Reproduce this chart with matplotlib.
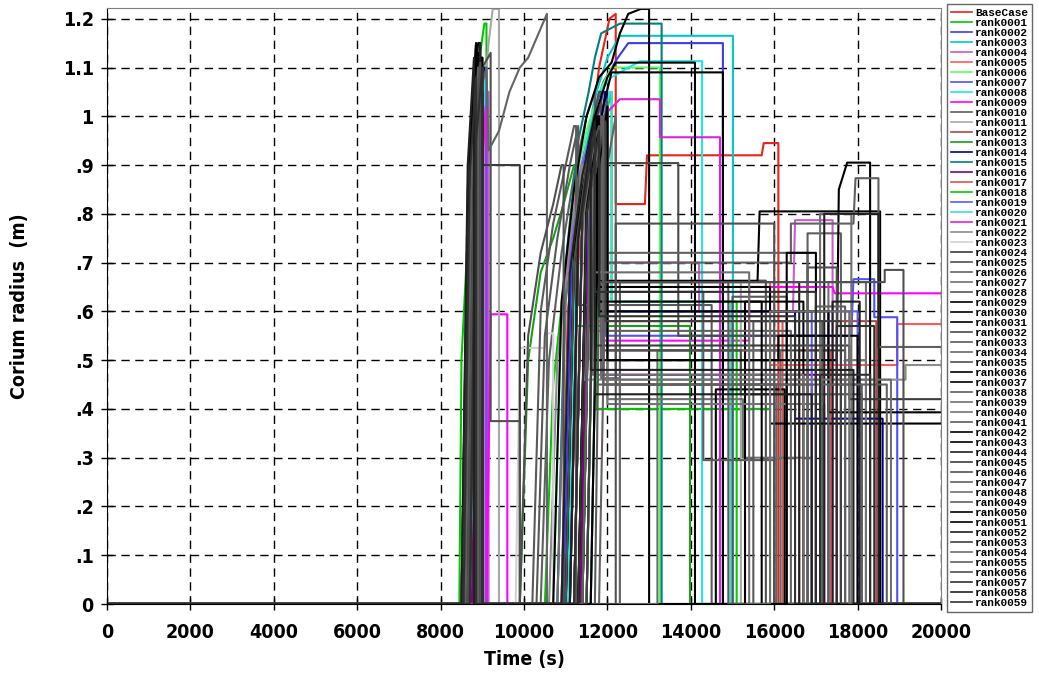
import numpy as np
import matplotlib
matplotlib.use('Agg')
import matplotlib.pyplot as plt
from matplotlib.ticker import FixedLocator, FixedFormatter

# Corium radius (m) vs time (s), one step curve per case: (time, radius) knots
base_case = [(0,0),(8650,0),(8800,0.55),(8950,0.95),(9050,1.04),(9050,0),(10900,0),(11050,0.6),(11300,0.78),(11550,0.93),(11800,1.1),(12050,1.2),(12200,1.21),(12200,0.82),(12900,0.82),(12950,0.92),(15700,0.92),(15750,0.945),(16100,0.945),(16100,0),(20000,0)]
rank0001 = [(0,0),(8450,0),(8500,0.5),(8650,0.75),(8800,1.0),(8950,1.13),(9050,1.19),(9100,1.19),(9100,0),(10500,0),(10700,0.45),(10950,0.65),(11200,0.8),(11450,0.92),(11700,1.02),(11750,1.02),(11750,0.4),(15900,0.4),(15900,0),(20000,0)]
rank0002 = [(0,0),(8600,0),(8750,0.7),(8900,0.98),(9000,1.06),(9100,1.06),(9100,0),(10950,0),(11150,0.72),(11400,0.9),(11650,1.0),(11900,1.07),(12250,1.12),(12500,1.15),(14770,1.15),(14770,0),(20000,0)]
rank0003 = [(0,0),(8700,0),(8850,0.8),(9000,1.02),(9100,1.08),(9100,0),(11000,0),(11200,0.75),(11450,0.92),(11700,1.04),(12000,1.12),(12300,1.165),(15010,1.165),(15010,0),(20000,0)]
rank0004 = [(0,0),(8750,0),(8900,0.85),(9050,1.05),(9150,1.05),(9150,0),(10800,0),(11000,0.65),(11250,0.85),(11500,0.95),(11550,0.95),(11550,0.7),(14200,0.7),(14200,0.6),(16450,0.6),(16500,0.787),(17400,0.787),(17400,0),(20000,0)]
rank0005 = [(0,0),(8600,0),(8800,0.8),(8950,1.05),(9000,1.05),(9000,0),(11100,0),(11300,0.7),(11550,0.88),(11800,1.0),(11900,1.0),(11900,0.66),(15900,0.66),(15900,0.49),(18950,0.49),(18950,0.574),(20000,0.574)]
rank0006 = [(0,0),(8550,0),(8700,0.65),(8850,0.95),(8950,1.08),(8950,0),(10700,0),(10900,0.6),(11200,0.85),(11500,0.97),(11800,1.05),(12100,1.1),(13260,1.1),(13260,0),(20000,0)]
rank0007 = [(0,0),(8650,0),(8800,0.7),(8950,0.98),(9100,1.1),(9100,0),(11200,0),(11400,0.8),(11650,0.95),(11900,1.05),(11950,1.05),(11950,0.55),(17850,0.55),(17900,0.666),(18400,0.666),(18400,0.588),(18950,0.588),(18950,0),(20000,0)]
rank0008 = [(0,0),(8700,0),(8850,0.9),(9000,1.1),(9050,1.1),(9050,0),(11050,0),(11250,0.8),(11500,0.95),(11800,1.05),(12100,1.08),(12780,1.113),(14270,1.113),(14270,0),(20000,0)]
rank0009 = [(0,0),(8550,0),(8700,0.6),(8850,0.9),(9000,1.0),(9070,1.0),(9070,0),(9100,0),(9200,0.594),(9600,0.594),(9600,0),(11300,0),(11500,0.7),(11750,0.9),(11900,0.95),(11900,0.54),(15400,0.54),(15400,0.65),(17400,0.65),(17450,0.637),(20000,0.637)]
rank0010 = [(0,0),(8500,0),(8650,0.7),(8800,0.98),(8950,1.1),(9000,1.1),(9000,0),(10400,0),(10600,0.5),(10900,0.72),(11200,0.88),(11500,1.0),(11700,1.05),(11700,0.45),(16300,0.45),(16300,0),(16800,0),(16800,0.76),(17600,0.76),(17600,0),(20000,0)]
rank0011 = [(0,0),(8550,0),(8750,0.6),(8950,0.95),(9150,1.15),(9250,1.22),(9400,1.22),(9400,0),(11000,0),(11200,0.7),(11500,0.9),(11800,1.0),(11850,1.0),(11850,0.66),(15200,0.66),(15200,0),(20000,0)]
rank0012 = [(0,0),(8700,0),(8850,0.85),(9000,1.07),(9000,0),(11400,0),(11600,0.82),(11850,1.0),(11900,1.0),(11900,0.45),(16900,0.45),(16900,0),(17500,0),(17500,0.58),(18450,0.58),(18450,0),(20000,0)]
rank0013 = [(0,0),(8600,0),(8750,0.75),(8900,1.02),(9000,1.12),(9000,0),(9900,0),(10100,0.5),(10400,0.68),(10700,0.75),(10950,0.82),(11200,0.9),(11250,0.9),(11250,0.57),(13980,0.57),(13980,0),(20000,0)]
rank0014 = [(0,0),(8650,0),(8800,0.8),(9000,1.1),(9050,1.1),(9050,0),(11500,0),(11700,0.9),(11950,1.05),(12000,1.05),(12000,0.6),(16500,0.6),(16500,0.38),(18600,0.38),(18600,0),(20000,0)]
rank0015 = [(0,0),(8700,0),(8850,0.85),(9000,1.05),(9000,0),(10800,0),(11000,0.7),(11300,0.95),(11550,1.05),(11700,1.12),(11850,1.17),(12300,1.19),(13300,1.19),(13300,0),(20000,0)]
rank0016 = [(0,0),(8750,0),(8900,0.85),(9050,1.0),(9050,0),(11350,0),(11550,0.8),(11800,0.95),(11850,0.95),(11850,0.47),(17600,0.47),(17600,0),(20000,0)]
rank0017 = [(0,0),(8600,0),(8800,0.9),(8900,1.0),(8900,0),(11200,0),(11400,0.78),(11650,0.95),(11700,0.95),(11700,0.58),(16200,0.58),(16200,0),(16600,0),(16600,0.52),(17350,0.52),(17350,0),(20000,0)]
rank0018 = [(0,0),(8500,0),(8650,0.6),(8800,0.9),(8950,1.05),(9000,1.05),(9000,0),(11500,0),(11700,0.85),(11950,1.0),(12100,1.05),(12100,0.62),(15100,0.62),(15100,0),(20000,0)]
rank0019 = [(0,0),(8650,0),(8800,0.75),(8950,1.02),(8950,0),(10900,0),(11100,0.7),(11350,0.88),(11550,0.95),(11550,0.6),(16900,0.6),(16900,0),(17300,0),(17300,0.6),(18000,0.6),(18000,0),(20000,0)]
rank0020 = [(0,0),(8700,0),(8900,0.9),(9050,1.08),(9050,0),(11600,0),(11800,0.9),(12050,1.05),(12100,1.05),(12100,0.62),(14950,0.62),(14950,0),(20000,0)]
rank0021 = [(0,0),(8800,0),(8950,0.85),(9080,1.02),(9080,0),(11200,0),(11400,0.8),(11650,0.95),(11900,1.0),(12300,1.035),(13260,1.035),(13260,0.957),(14700,0.957),(14700,0),(20000,0)]
rank0022 = [(0,0),(8600,0),(8800,0.85),(8950,1.1),(9000,1.1),(9000,0),(10600,0),(10800,0.5),(11100,0.75),(11400,0.9),(11450,0.9),(11450,0.46),(19150,0.46),(19150,0.49),(20000,0.49)]
rank0023 = [(0,0),(8550,0),(8750,0.85),(8900,1.0),(8900,0),(9800,0),(9900,0.525),(10500,0.525),(10550,0.555),(10700,0.555),(10700,0),(20000,0)]
rank0024 = [(0,0),(8500,0),(8650,0.75),(8800,1.0),(8950,1.12),(9000,1.12),(9000,0.9),(9900,0.9),(9900,0),(11000,0),(11200,0.7),(11500,0.9),(11800,1.02),(11850,1.02),(11850,0.52),(17700,0.52),(17700,0),(20000,0)]
rank0025 = [(0,0),(8600,0),(8700,0.5),(8850,0.9),(9000,1.1),(9200,1.13),(9200,0.375),(9900,0.375),(9900,0),(11100,0),(11300,0.75),(11550,0.95),(11800,1.05),(11850,1.05),(11850,0.663),(15800,0.663),(15800,0),(20000,0)]
rank0026 = [(0,0),(8650,0),(8800,0.8),(8950,1.05),(9100,1.1),(9150,0.93),(9400,0.97),(9650,1.05),(9900,1.1),(10100,1.12),(10300,1.16),(10450,1.19),(10550,1.21),(10550,0),(11800,0),(12000,0.9),(12200,1.0),(12200,0.45),(16050,0.45),(16050,0),(20000,0)]
rank0027 = [(0,0),(8550,0),(8700,0.7),(8850,0.98),(8950,1.08),(8950,0),(11300,0),(11500,0.78),(11800,0.95),(12000,1.02),(12000,0.42),(15250,0.42),(15250,0.3),(16900,0.3),(16900,0),(17300,0),(17300,0.66),(18200,0.66),(18200,0),(20000,0)]
rank0028 = [(0,0),(8700,0),(8850,0.9),(9000,1.1),(9000,0),(10300,0),(10500,0.55),(10800,0.75),(11100,0.9),(11300,0.98),(11300,0.613),(14500,0.613),(14500,0),(15000,0),(15000,0.63),(16300,0.63),(16300,0),(20000,0)]
rank0029 = [(0,0),(8500,0),(8650,0.8),(8800,1.05),(8900,1.15),(8950,1.15),(8950,0),(10700,0),(10900,0.62),(11200,0.85),(11500,1.0),(11800,1.08),(12100,1.11),(12300,1.17),(12500,1.21),(12800,1.22),(13000,1.22),(13000,0),(20000,0)]
rank0030 = [(0,0),(8550,0),(8700,0.85),(8850,1.07),(8900,1.07),(8900,0),(11400,0),(11600,0.85),(11900,1.02),(12100,1.09),(14770,1.09),(14770,0),(15300,0),(15300,0.62),(16700,0.62),(16700,0),(20000,0)]
rank0031 = [(0,0),(8600,0),(8750,0.9),(8900,1.1),(8950,1.1),(8950,0),(11200,0),(11400,0.8),(11700,1.0),(12000,1.08),(12200,1.11),(14100,1.11),(14100,0),(14600,0),(14600,0.44),(16250,0.44),(16250,0),(20000,0)]
rank0032 = [(0,0),(8650,0),(8800,0.95),(8950,1.13),(8950,0),(11400,0),(11600,0.88),(11800,0.98),(11850,0.98),(11850,0.904),(13700,0.904),(13700,0.55),(17000,0.55),(17000,0),(20000,0)]
rank0033 = [(0,0),(8500,0),(8650,0.8),(8800,1.08),(8850,1.08),(8850,0),(10200,0),(10400,0.6),(10700,0.78),(11000,0.9),(11200,0.98),(11250,0.98),(11250,0),(12300,0),(12300,0.66),(14900,0.66),(14900,0),(15500,0),(15500,0.58),(17150,0.58),(17150,0),(20000,0)]
rank0034 = [(0,0),(8550,0),(8700,0.85),(8850,1.04),(8850,0),(11500,0),(11700,0.9),(11850,1.0),(11850,0.463),(12300,0.463),(12300,0),(13200,0),(13200,0.52),(16150,0.52),(16150,0),(20000,0)]
rank0035 = [(0,0),(8600,0),(8750,0.95),(8850,1.1),(8900,1.1),(8900,0),(11600,0),(11800,0.9),(12000,0.98),(12000,0.52),(15200,0.52),(15200,0.43),(18100,0.43),(18100,0),(20000,0)]
rank0036 = [(0,0),(8650,0),(8800,0.95),(8950,1.12),(9000,1.12),(9000,0),(11000,0),(11200,0.72),(11500,0.92),(11700,1.0),(11750,1.0),(11750,0.662),(15600,0.662),(15650,0.805),(18540,0.805),(18540,0),(20000,0)]
rank0037 = [(0,0),(8700,0),(8850,0.95),(9000,1.05),(9000,0),(11100,0),(11300,0.75),(11550,0.9),(11600,0.9),(11600,0.5),(17500,0.5),(17550,0.85),(17750,0.905),(18300,0.905),(18300,0),(20000,0)]
rank0038 = [(0,0),(8550,0),(8700,0.9),(8850,1.1),(8850,0),(11300,0),(11500,0.82),(11750,0.96),(11800,0.96),(11800,0.7),(16400,0.7),(16400,0.78),(17900,0.78),(17950,0.873),(18500,0.873),(18500,0.527),(20000,0.527)]
rank0039 = [(0,0),(8600,0),(8750,0.8),(8900,1.05),(8900,0),(10800,0),(11000,0.62),(11300,0.83),(11600,0.95),(11650,0.95),(11650,0.47),(16700,0.47),(16700,0),(17100,0),(17100,0.8),(17850,0.8),(17850,0),(20000,0)]
rank0040 = [(0,0),(8650,0),(8800,0.92),(8950,1.08),(8950,0),(11500,0),(11700,0.88),(11950,1.0),(12000,1.0),(12000,0.41),(17200,0.41),(17200,0),(17700,0),(17700,0.5),(18200,0.5),(18200,0),(20000,0)]
rank0041 = [(0,0),(8500,0),(8700,0.95),(8850,1.15),(8850,0),(11700,0),(11850,0.95),(12000,1.03),(12000,0.64),(14300,0.64),(14300,0.295),(16000,0.295),(16000,0),(20000,0)]
rank0042 = [(0,0),(8550,0),(8700,0.9),(8850,1.13),(8900,1.13),(8900,0),(11000,0),(11200,0.7),(11500,0.9),(11800,1.0),(11800,0.6),(17300,0.6),(17300,0.393),(20000,0.393)]
rank0043 = [(0,0),(8600,0),(8750,0.92),(8900,1.12),(8900,0),(11300,0),(11500,0.8),(11800,0.98),(11800,0.65),(15900,0.65),(15900,0.37),(17350,0.37),(20000,0.37)]
rank0044 = [(0,0),(8650,0),(8800,0.98),(8950,1.15),(8950,0),(11400,0),(11600,0.85),(11900,1.0),(11900,0.66),(16600,0.66),(16600,0),(17200,0),(17200,0.8),(18500,0.8),(18500,0),(20000,0)]
rank0045 = [(0,0),(8700,0),(8850,1.0),(8950,1.1),(8950,0),(11200,0),(11400,0.8),(11700,0.98),(11700,0.53),(17800,0.53),(17800,0.42),(20000,0.42)]
rank0046 = [(0,0),(8550,0),(8700,0.85),(8850,1.06),(8850,0),(9900,0),(10100,0.55),(10400,0.72),(10700,0.82),(10900,0.9),(10950,0.9),(10950,0),(12200,0),(12200,0.78),(16000,0.78),(16000,0),(16800,0),(16800,0.69),(17500,0.69),(17500,0),(20000,0)]
rank0047 = [(0,0),(8600,0),(8750,0.9),(8900,1.08),(8900,0),(11400,0),(11600,0.85),(11900,1.0),(11900,0.72),(16800,0.72),(16800,0),(17300,0),(17300,0.45),(18700,0.45),(18700,0),(20000,0)]
rank0048 = [(0,0),(8650,0),(8800,0.95),(8900,1.05),(8900,0),(11500,0),(11700,0.9),(11900,0.97),(11900,0.46),(18800,0.46),(18800,0),(20000,0)]
rank0049 = [(0,0),(8500,0),(8650,0.85),(8800,1.1),(8800,0),(11100,0),(11300,0.75),(11600,0.95),(11600,0.56),(16400,0.56),(16400,0),(17000,0),(17000,0.61),(17700,0.61),(17700,0),(20000,0)]
rank0050 = [(0,0),(8550,0),(8700,0.92),(8850,1.15),(8850,0),(11300,0),(11500,0.82),(11800,1.0),(11800,0.62),(15700,0.62),(15700,0),(16300,0),(16300,0.72),(17000,0.72),(17000,0),(20000,0)]
rank0051 = [(0,0),(8600,0),(8750,0.95),(8900,1.13),(8900,0),(11600,0),(11800,0.9),(12000,1.02),(12000,0.5),(16100,0.5),(16100,0.55),(18000,0.55),(18000,0),(20000,0)]
rank0052 = [(0,0),(8650,0),(8800,0.98),(8950,1.12),(8950,0),(10900,0),(11100,0.68),(11400,0.88),(11700,0.99),(11700,0.43),(16900,0.43),(16900,0),(17400,0),(17400,0.62),(18050,0.62),(18050,0),(20000,0)]
rank0053 = [(0,0),(8700,0),(8850,0.98),(8950,1.08),(8950,0),(11500,0),(11700,0.88),(11950,0.99),(11950,0.58),(17600,0.58),(17600,0),(20000,0)]
rank0054 = [(0,0),(8550,0),(8700,0.8),(8850,1.02),(8850,0),(11200,0),(11400,0.78),(11700,0.96),(11700,0.68),(15400,0.68),(15400,0),(15900,0),(15900,0.6),(17800,0.6),(17800,0),(20000,0)]
rank0055 = [(0,0),(8600,0),(8750,0.9),(8900,1.1),(8900,0),(11400,0),(11600,0.86),(11900,1.0),(11900,0.45),(18100,0.45),(18100,0),(20000,0)]
rank0056 = [(0,0),(8650,0),(8800,0.92),(8950,1.11),(8950,0),(11000,0),(11200,0.7),(11500,0.9),(11800,0.98),(11800,0.66),(18650,0.66),(18650,0.685),(19100,0.685),(19100,0),(20000,0)]
rank0057 = [(0,0),(8700,0),(8850,0.95),(9000,1.1),(9000,0),(11300,0),(11500,0.8),(11800,0.97),(11800,0.59),(16500,0.59),(16500,0),(17100,0),(17100,0.47),(18300,0.47),(18300,0),(20000,0)]
rank0058 = [(0,0),(8500,0),(8650,0.9),(8800,1.12),(8800,0),(11100,0),(11300,0.75),(11600,0.95),(11600,0.48),(17900,0.48),(17900,0),(20000,0)]
rank0059 = [(0,0),(8550,0),(8700,0.88),(8850,1.08),(8850,0),(11200,0),(11400,0.8),(11700,0.97),(11700,0.64),(17000,0.64),(17000,0),(17500,0),(17500,0.57),(18400,0.57),(18400,0),(20000,0)]

curves = [base_case, rank0001, rank0002, rank0003, rank0004, rank0005, rank0006, rank0007,
          rank0008, rank0009, rank0010, rank0011, rank0012, rank0013, rank0014, rank0015,
          rank0016, rank0017, rank0018, rank0019, rank0020, rank0021, rank0022, rank0023,
          rank0024, rank0025, rank0026, rank0027, rank0028, rank0029, rank0030, rank0031,
          rank0032, rank0033, rank0034, rank0035, rank0036, rank0037, rank0038, rank0039,
          rank0040, rank0041, rank0042, rank0043, rank0044, rank0045, rank0046, rank0047,
          rank0048, rank0049, rank0050, rank0051, rank0052, rank0053, rank0054, rank0055,
          rank0056, rank0057, rank0058, rank0059]
names = ['BaseCase'] + ['rank%04d' % i for i in range(1, 60)]
colors = ['#e8231a', '#00c800', '#3c3cf0', '#00c8c8', '#cc5ccc', '#ff5a5a', '#5aff5a', '#5050ff',
          '#20e6e6', '#ff00ff', '#606060', '#a8a8a8', '#b04848', '#18a018', '#000090', '#008080',
          '#800080', '#e05050', '#00d000', '#5a5aff', '#40dcdc', '#e020e0', '#8c8c8c', '#d2d2d2',
          '#3c3c3c', '#505050', '#646464', '#707070', '#585858', '#000000', '#000000', '#000000',
          '#4a4a4a', '#5a5a5a', '#6a6a6a', '#505050', '#000000', '#000000', '#606060', '#707070',
          '#747474', '#5c5c5c', '#000000', '#000000', '#202020', '#3c3c3c', '#505050', '#606060',
          '#707070', '#606060', '#000000', '#000000', '#202020', '#404040', '#707070', '#606060',
          '#505050', '#303030', '#202020', '#303030']

yticks = [0, 0.1, 0.2, 0.3, 0.4, 0.5, 0.6, 0.7, 0.8, 0.9, 1.0, 1.1, 1.2]
ylabels = ['0', '.1', '.2', '.3', '.4', '.5', '.6', '.7', '.8', '.9', '1', '1.1', '1.2']
xticks = [0, 2000, 4000, 6000, 8000, 10000, 12000, 14000, 16000, 18000, 20000]

lab_font = dict(family='DejaVu Sans', stretch='condensed', weight='bold', size=14)

fig = plt.figure(figsize=(10.39, 6.79), dpi=100)
ax = fig.add_axes([107/1039, 1-604/679, 834/1039, 596/679])

for pts, name, col in zip(curves, names, colors):
    t, r = zip(*pts)
    ax.plot(t, r, color=col, linewidth=1.5, label=name)

ax.set_xlim(0, 20000)
ax.set_ylim(0, 1.222)
ax.grid(True, color='black', linestyle=(0, (6, 4)), linewidth=1.0)
ax.set_axisbelow(True)

ax.xaxis.set_major_locator(FixedLocator(xticks))
ax.yaxis.set_major_locator(FixedLocator(yticks))
ax.yaxis.set_major_formatter(FixedFormatter(ylabels))
ax.tick_params(axis='y', direction='inout', length=9, width=1, pad=5)
ax.tick_params(axis='x', direction='inout', length=9, width=1, pad=9)
for lab in ax.get_xticklabels() + ax.get_yticklabels():
    lab.set(**lab_font)

ax.set_xlabel('Time (s)', labelpad=6, **lab_font)
ax.set_ylabel('Corium radius  (m)', labelpad=24, **lab_font)

for side in ['top', 'right']:
    ax.spines[side].set_color('#808080')
for side in ['left', 'bottom']:
    ax.spines[side].set_color('black')

leg = ax.legend(loc='upper left', bbox_to_anchor=(947/1039, 1-4/679), bbox_transform=fig.transFigure,
                prop={'family': ['Liberation Mono', 'DejaVu Sans Mono'], 'weight': 'bold', 'size': 8},
                frameon=True, fancybox=False, handlelength=1.9, handletextpad=0.25,
                labelspacing=0.0, borderpad=0.35, borderaxespad=0)
leg.get_frame().set_edgecolor('#404040')
leg.get_frame().set_linewidth(1.0)
for h in leg.get_lines():
    h.set_linewidth(1.2)

fig.savefig('out.png', dpi=100)
